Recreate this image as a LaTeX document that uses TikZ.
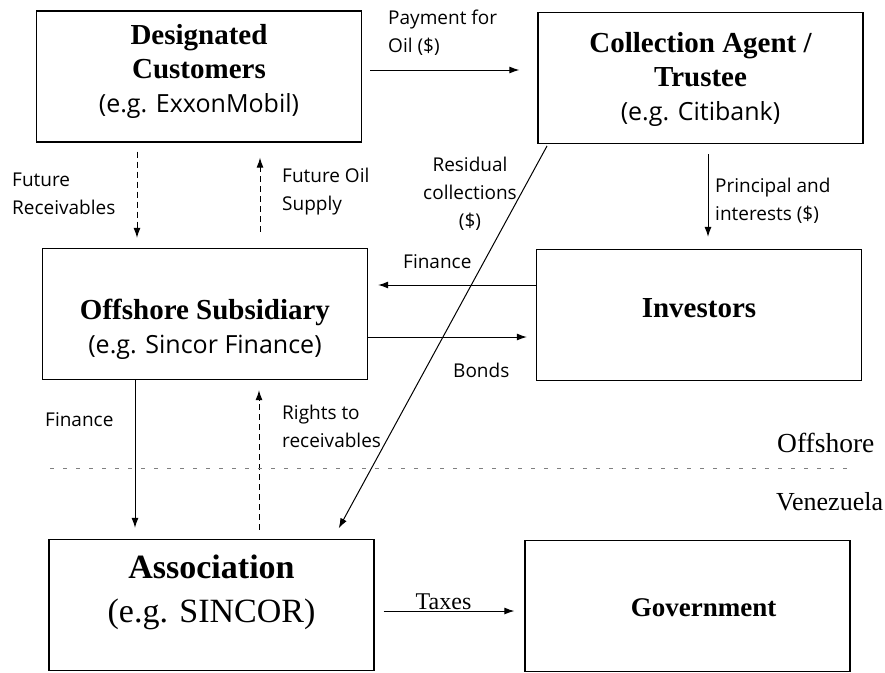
\documentclass[tikz,border=0pt]{standalone}
\usepackage{fontspec}
\setmainfont{Liberation Serif}
\newfontfamily\optfont{Open Sans}
\usetikzlibrary{
  arrows.meta,
  positioning
}

\begin{document}
\begin{tikzpicture}[
  x=1pt, y=-1pt,
  box/.style = {draw, line width=1.3pt, minimum width=325pt,
    minimum height=131pt, inner sep=0pt},
  title/.style = {align=center, inner sep=0pt,
    font=\fontsize{29}{34}\selectfont\bfseries},
  lab/.style = {inner sep=0pt, align=left,
    font=\optfont\fontsize{19}{28}\selectfont},
  place/.style = {inner sep=0pt, anchor=west,
    font=\fontsize{26}{30}\selectfont},
  flow/.style = {line width=1pt, -{Latex[length=10pt,width=7pt]}},
  future/.style = {flow, dash pattern=on 6pt off 4pt}]
  \useasboundingbox (0,0) rectangle (885,672);
  \newcommand{\egline}[1]{{\mdseries\optfont\fontsize{25}{32}\selectfont #1}}
  % boxes
  \node[box] (cust)  at (199,76.5) {};
  \node[box] (agent) at (700.5,78) {};
  \node[box] (sub)   at (205,314)  {};
  \node[box] (inv)   at (699,315)  {};
  \node[box] (assoc) at (211.5,605) {};
  \node[box] (gov)   at (687.5,606) {};
  % box texts
  \node[title] (custtxt) at ([yshift=5pt]cust.center)
    {Designated\\Customers\\\egline{(e.g. ExxonMobil)}};
  \node[title] (agenttxt) at ([yshift=-1pt]agent.center)
    {Collection Agent /\\Trustee\\\egline{(e.g. Citibank)}};
  \node[title] (subtxt) at ([yshift=-15pt]sub.center)
    {Offshore Subsidiary\\\egline{(e.g. Sincor Finance)}};
  \node[title] (invtxt) at ([yshift=7pt]inv.center) {Investors};
  \node[title, font=\fontsize{34}{44}\selectfont\bfseries]
    (assoctxt) at ([yshift=13pt]assoc.center)
    {Association\\{\mdseries (e.g. SINCOR)}};
  \node[title, font=\fontsize{27}{32}\selectfont\bfseries]
    (govtxt) at ([xshift=16pt,yshift=-2pt]gov.center) {Government};

  % flows
  \draw[flow, shorten <=8pt, shorten >=18pt]
    (cust.east |- 0,70) -- (agent.west |- 0,70);
  \draw[future, shorten <=9pt, shorten >=10pt]
    (137,0 |- cust.south) -- (137,0 |- sub.north);
  \draw[future, shorten <=16pt, shorten >=15pt]
    (260,0 |- sub.north) -- (260,0 |- cust.south);
  \draw[flow, shorten <=10pt, shorten >=12pt]
    (708,0 |- agent.south) -- (708,0 |- inv.north);
  \draw[flow, shorten >=10pt]
    (inv.west |- 0,285) -- (sub.east |- 0,285);
  \draw[flow, shorten >=9pt]
    (sub.east |- 0,337) -- (inv.west |- 0,337);
  \draw[flow, shorten >=11pt]
    (135,0 |- sub.south) -- (135,0 |- assoc.north);
  \draw[future, shorten <=9pt, shorten >=10pt]
    (259,0 |- assoc.north) -- (259,0 |- sub.south);
  \draw[flow, shorten <=2pt, shorten >=12pt]
    (548,0 |- agent.south) -- (333,0 |- assoc.north);
  \draw[flow, shorten <=9pt, shorten >=10pt]
    (assoc.east |- 0,611) -- node[above=1pt, xshift=-6pt, inner sep=0pt,
      font=\fontsize{24}{28}\selectfont] (taxes) {Taxes}
    (gov.west |- 0,611);

  % labels
  \node[lab, anchor=west] (pay) at (388,33) {Payment for\\Oil (\$)};
  \node[lab, anchor=west] (frec) at (12,193.5) {Future\\Receivables};
  \node[lab, anchor=west] (fsup) at (282,191.5) {Future Oil\\Supply};
  \node[lab, align=center] (resid) at (470,194)
    {Residual\\collections\\(\$)};
  \node[lab, anchor=west] (prin) at (715,201) {Principal and\\interests (\$)};
  \node[lab, anchor=west] (fin1) at (403,262) {Finance};
  \node[lab, anchor=west] (bond) at (453,370) {Bonds};
  \node[lab, anchor=west] (fin2) at (45,420) {Finance};
  \node[lab, anchor=west] (right) at (282,426) {Rights to\\receivables};

  % offshore / onshore split
  \draw[line width=0.8pt, gray, dash pattern=on 4pt off 9pt]
    (50,468) -- (850,468);
  \node[place, font=\fontsize{27.5}{30}\selectfont] (off) at (777,443) {Offshore};
  \node[place] (ven) at (776,502) {Venezuela};
\end{tikzpicture}
\end{document}
